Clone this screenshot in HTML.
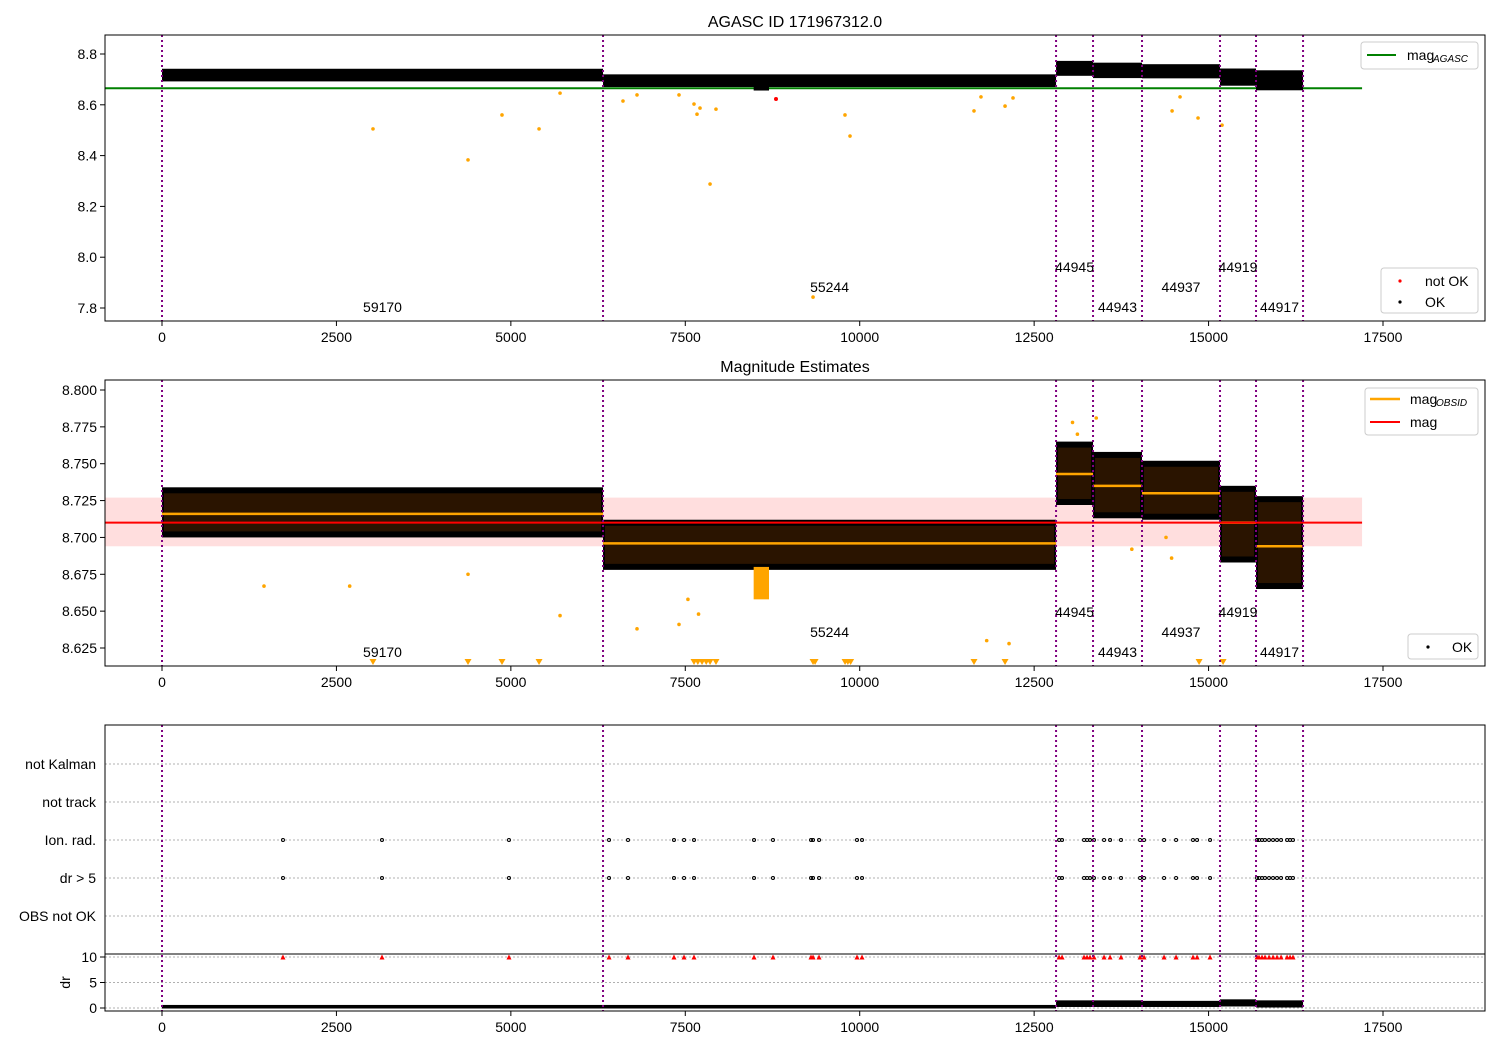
<!DOCTYPE html>
<html><head><meta charset="utf-8"><style>
body{margin:0;background:#fff}
svg text{font-family:"Liberation Sans","DejaVu Sans",sans-serif;fill:#000}
</style></head><body>
<svg id="chart" width="1500" height="1050" xmlns="http://www.w3.org/2000/svg"></svg>
<script>
// ---- data ----
const segStart=[0,6321,12814,13344,14046,15164,15680];
const segEnd=[6321,12814,13344,14046,15164,15680,16354];
const obsids=["59170","55244","44945","44943","44937","44919","44917"];
const magObs=[8.716,8.696,8.743,8.735,8.730,8.710,8.694];
const bandLo=[8.700,8.678,8.722,8.713,8.712,8.683,8.665];
const bandHi=[8.734,8.712,8.765,8.758,8.752,8.735,8.728];
const dipT=[8480,8700];
const dipLo=8.658;
const magAgasc=8.665;
const magMean=8.710;
const magStdLo=8.694;
const magStdHi=8.727;
const out1T=[3024,4386,4873,5404,7855,9861,9789,9331,7625,7711,7668,7940,6607,6808,7410,14477,14849,14591,15193,11638,12083,11738,12197,5705];
const out1M=[8.505,8.383,8.56,8.505,8.288,8.477,8.56,7.843,8.603,8.587,8.563,8.583,8.615,8.639,8.639,8.576,8.548,8.631,8.52,8.576,8.595,8.631,8.627,8.646];
const bad1T=[8800];
const bad1M=[8.623];
const out2T=[1462,5705,6808,7410,7538,7690,13050,13120,13390,14390,14470,13900,11820,12140,2690,4386];
const out2M=[8.667,8.647,8.638,8.641,8.658,8.648,8.778,8.770,8.781,8.700,8.686,8.692,8.630,8.628,8.667,8.675];
const triT=[3024,4386,4873,5404,7625,7680,7740,7800,7855,7940,9331,9360,9790,9830,9870,11638,12083,14864,15208];
const eventT=[1734,3153,4973,6407,6679,7338,7482,7625,8485,8757,9302,9331,9417,9961,10033,12857,12900,13215,13258,13301,13358,13502,13588,13745,14018,14075,14362,14534,14777,14835,15021,15695,15723,15766,15809,15867,15924,15981,16039,16125,16168,16210];
const xTicks=[0,2500,5000,7500,10000,12500,15000,17500];
const y1Ticks=[7.8,8.0,8.2,8.4,8.6,8.8];
const y2Ticks=[8.625,8.650,8.675,8.700,8.725,8.750,8.775,8.800];
const cats=["not Kalman","not track","Ion. rad.","dr > 5","OBS not OK"];
const drTicks=[0,5,10];
const drLoA=[-0.1,-0.1,0.2,0.2,0.2,0.3,0.1];
const drHiA=[0.6,0.6,1.5,1.5,1.4,1.7,1.5];

// ---- helpers ----
const svg=document.getElementById('chart');
const NS='http://www.w3.org/2000/svg';
function el(t,a,txt){const e=document.createElementNS(NS,t);for(const k in a)e.setAttribute(k,a[k]);if(txt!==undefined)e.textContent=txt;svg.appendChild(e);return e;}
const L=105,R=1485;
const X=t=>162+t*(1221/17500);
const Y1=m=>54+(8.8-m)*254;
const Y2=m=>390+(8.8-m)*1474.3;
const YC=i=>764+i*38;
const YD=d=>1008-d*5.1;
const vlines=segStart.concat([segEnd[segEnd.length-1]]);

function frame(top,bot,name){
  const r=el('rect',{x:L,y:top,width:R-L,height:bot-top,fill:'none',stroke:'#000','stroke-width':1});
  
}
function xAxis(bot){
  xTicks.forEach(v=>{
    const l=el('line',{x1:X(v),x2:X(v),y1:bot,y2:bot+5,stroke:'#000'});
    
    const t=el('text',{x:X(v),y:bot+21,'text-anchor':'middle','font-size':14},String(v));
    
  });
}
function yTicks(ticks,fn,fmt){
  ticks.forEach(v=>{
    const l=el('line',{x1:L-5,x2:L,y1:fn(v),y2:fn(v),stroke:'#000'});
    
    const t=el('text',{x:L-8,y:fn(v)+5,'text-anchor':'end','font-size':14},fmt(v));
    
  });
}
function vLines(top,bot){
  vlines.forEach(v=>{
    const l=el('line',{x1:X(v),x2:X(v),y1:top,y2:bot,stroke:'#800080','stroke-width':2,'stroke-dasharray':'2,3'});
    
  });
}
function labels(bot){
  obsids.forEach((o,i)=>{
    const lvl=[14,34,54][i%3];
    const t=el('text',{x:(X(segStart[i])+X(segEnd[i]))/2,y:bot-lvl+5,'text-anchor':'middle','font-size':14},o);
    
  });
}
function dot(x,y,r,c,name){const d=el('circle',{cx:x,cy:y,r:r,fill:c});}

// ---- panel 1 ----
let t=el('text',{x:795,y:27,'text-anchor':'middle','font-size':16},'AGASC ID 171967312.0');

let g=el('line',{x1:L,x2:X(17200),y1:Y1(magAgasc),y2:Y1(magAgasc),stroke:'#008000','stroke-width':2});

segStart.forEach((s,i)=>{
  const r=el('rect',{x:X(s),y:Y1(bandHi[i])-2,width:X(segEnd[i])-X(s),height:Y1(bandLo[i])-Y1(bandHi[i])+4,fill:'#000'});
  
});
let dp=el('rect',{x:X(dipT[0]),y:Y1(8.69),width:X(dipT[1])-X(dipT[0]),height:Y1(dipLo+0.01)-Y1(8.69)+3,fill:'#000'});

out1T.forEach((v,i)=>dot(X(v),Y1(out1M[i]),1.8,'#ffa500','outlier-point'));
bad1T.forEach((v,i)=>dot(X(v),Y1(bad1M[i]),2,'#ff0000','not-ok-point'));
vLines(35,321);labels(321);
frame(35,321,'panel-agasc');xAxis(321);yTicks(y1Ticks,Y1,v=>v.toFixed(1));

// legends panel1
let lg=el('rect',{x:1361,y:42,width:117,height:27,rx:3,fill:'#fff',stroke:'#ccc'});
el('line',{x1:1367,x2:1396,y1:55,y2:55,stroke:'#008000','stroke-width':2});
t=el('text',{x:1407,y:60,'font-size':14},'mag');
el('text',{x:1433,y:62,'font-size':10,'font-style':'italic'},'AGASC');
lg=el('rect',{x:1381,y:268,width:97,height:45,rx:3,fill:'#fff',stroke:'#ccc'});
dot(1400,281,1.6,'#ff0000','legend-not-ok-marker');
t=el('text',{x:1425,y:286,'font-size':14},'not OK');
dot(1400,302,1.6,'#000','legend-ok-marker');
t=el('text',{x:1425,y:307,'font-size':14},'OK');

// ---- panel 2 ----
t=el('text',{x:795,y:372,'text-anchor':'middle','font-size':16},'Magnitude Estimates');

let pb=el('rect',{x:L,y:Y2(magStdHi),width:X(17200)-L,height:Y2(magStdLo)-Y2(magStdHi),fill:'#ffdede'});

segStart.forEach((s,i)=>{
  const r=el('rect',{x:X(s),y:Y2(bandHi[i]),width:X(segEnd[i])-X(s),height:Y2(bandLo[i])-Y2(bandHi[i]),fill:'#000'});
  
  const c=el('rect',{x:X(s)+2,y:Y2(bandHi[i])+6,width:X(segEnd[i])-X(s)-4,height:Y2(bandLo[i])-Y2(bandHi[i])-12,fill:'#2a1400'});
  
});
dp=el('rect',{x:X(dipT[0]),y:Y2(8.68),width:X(dipT[1])-X(dipT[0]),height:Y2(dipLo)-Y2(8.68),fill:'#ffa500'});

segStart.forEach((s,i)=>{
  const l=el('line',{x1:X(s),x2:X(segEnd[i]),y1:Y2(magObs[i]),y2:Y2(magObs[i]),stroke:'#ffa500','stroke-width':2.5});
  
});
let rl=el('line',{x1:L,x2:X(17200),y1:Y2(magMean),y2:Y2(magMean),stroke:'#ff0000','stroke-width':2});

out2T.forEach((v,i)=>dot(X(v),Y2(out2M[i]),1.8,'#ffa500','outlier-point'));
triT.forEach(v=>{const x=X(v),y=663;const p=el('polygon',{points:`${x-3.5},${y-4} ${x+3.5},${y-4} ${x},${y+2}`,fill:'#ffa500'});});
vLines(380,666);labels(666);
frame(380,666,'panel-estimates');xAxis(666);yTicks(y2Ticks,Y2,v=>v.toFixed(3));
lg=el('rect',{x:1365,y:388,width:113,height:47,rx:3,fill:'#fff',stroke:'#ccc'});
el('line',{x1:1370,x2:1400,y1:399,y2:399,stroke:'#ffa500','stroke-width':2.5});
t=el('text',{x:1410,y:404,'font-size':14},'mag');
el('text',{x:1436,y:406,'font-size':10,'font-style':'italic'},'OBSID');
el('line',{x1:1370,x2:1400,y1:422,y2:422,stroke:'#ff0000','stroke-width':2});
t=el('text',{x:1410,y:427,'font-size':14},'mag');
lg=el('rect',{x:1408,y:634,width:70,height:25,rx:3,fill:'#fff',stroke:'#ccc'});
dot(1428,647,1.6,'#000','legend-ok-marker');
t=el('text',{x:1452,y:652,'font-size':14},'OK');

// ---- panel 3 ----
cats.forEach((c,i)=>{
  const l=el('line',{x1:L,x2:R,y1:YC(i),y2:YC(i),stroke:'#b0b0b0','stroke-dasharray':'2,2'});
  
  const tx=el('text',{x:96,y:YC(i)+5,'text-anchor':'end','font-size':14},c);
  
});
drTicks.forEach(v=>{
  const l=el('line',{x1:L,x2:R,y1:YD(v),y2:YD(v),stroke:'#b0b0b0','stroke-dasharray':'2,2'});
  
  const k=el('line',{x1:L-5,x2:L,y1:YD(v),y2:YD(v),stroke:'#000'});
  const tx=el('text',{x:L-8,y:YD(v)+5,'text-anchor':'end','font-size':14},String(v));
  
});
t=el('text',{x:0,y:0,'font-size':14,'text-anchor':'middle',transform:`translate(70,${YD(5)}) rotate(-90)`},'dr');

eventT.forEach(v=>{
  [2,3].forEach(i=>{const c=el('circle',{cx:X(v),cy:YC(i),r:1.5,fill:'none',stroke:'#000','stroke-width':1});});
  const x=X(v),y=YD(10);
  const p=el('polygon',{points:`${x-2.5},${y+2.5} ${x+2.5},${y+2.5} ${x},${y-2.5}`,fill:'#ff0000'});
  
});
segStart.forEach((s,i)=>{
  const r=el('rect',{x:X(s),y:YD(drHiA[i]),width:X(segEnd[i])-X(s),height:YD(drLoA[i])-YD(drHiA[i]),fill:'#000'});
  
});
vLines(725,1011);
let sep=el('line',{x1:L,x2:R,y1:954,y2:954,stroke:'#000'});

frame(725,1011,'panel-flags');xAxis(1011);
</script>
</body></html>
